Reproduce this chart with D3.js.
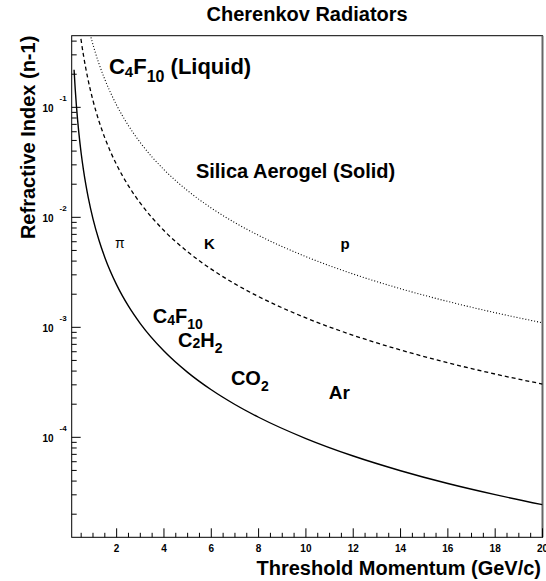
<!DOCTYPE html>
<html>
<head>
<meta charset="utf-8">
<script src="https://cdn.jsdelivr.net/npm/d3@7"></script>
<style>
  body { margin: 0; background: #fff; }
  svg { font-family: "Liberation Sans", Arial, Helvetica, sans-serif; }
</style>
</head>
<body>
<div id="chart"></div>
<script>
// threshold curves
const pionP = [0.2, 0.25, 0.3, 0.35, 0.4, 0.5, 0.6, 0.7, 0.8, 1, 1.25, 1.5, 2, 2.5, 3, 4, 5, 6, 7, 8, 10, 12, 14, 16, 18, 20];
const pionN = [0.2194, 0.1453, 0.1029, 0.07658, 0.05913, 0.03823, 0.02671, 0.01968, 0.01510, 0.00969, 0.006214, 0.004320, 0.002432, 0.001557, 0.001082, 0.0006087, 0.0003896, 0.0002705, 0.0001988, 0.0001522, 0.0000974, 0.0000676, 0.0000497, 0.0000380, 0.0000301, 0.0000244];

const kaonP = [0.45, 0.5, 0.6, 0.7, 0.8, 0.9, 1, 1.25, 1.5, 1.75, 2, 2.5, 3, 4, 5, 6, 7, 8, 10, 12, 14, 16, 18, 20];
const kaonN = [0.4844, 0.4053, 0.2950, 0.2237, 0.1751, 0.1406, 0.1152, 0.07517, 0.05277, 0.03903, 0.03001, 0.01931, 0.01345, 0.007587, 0.004863, 0.003379, 0.002484, 0.001902, 0.001218, 0.000846, 0.000622, 0.000476, 0.000376, 0.000305];

const protonP = [0.85, 0.9, 1, 1.1, 1.25, 1.5, 1.75, 2, 2.5, 3, 3.5, 4, 5, 6, 7, 8, 10, 12, 14, 16, 18, 20];
const protonN = [0.4895, 0.4446, 0.3713, 0.3144, 0.2504, 0.1795, 0.1347, 0.1046, 0.06811, 0.04777, 0.03531, 0.02714, 0.01746, 0.01215, 0.008943, 0.006854, 0.004392, 0.003052, 0.002243, 0.001718, 0.001358, 0.0011];

const xTicks = [2, 4, 6, 8, 10, 12, 14, 16, 18, 20];
const yExponents = [-1, -2, -3, -4];

const width = 546, height = 581;
const plotL = 71.7, plotR = 542.5, plotT = 35.7, plotB = 537.3;

const svg = d3.select("#chart").append("svg")
    .attr("width", width)
    .attr("height", height);

const x = d3.scaleLinear().domain([0.1, 20]).range([plotL, plotR]);
const y = d3.scaleLog().domain([1.233e-5, 0.448]).range([plotB, plotT]);

svg.append("clipPath").attr("id", "plot-clip")
    .append("rect")
    .attr("x", plotL).attr("y", plotT)
    .attr("width", plotR - plotL).attr("height", plotB - plotT);

// frame
svg.append("rect")
    .attr("x", plotL).attr("y", plotT)
    .attr("width", plotR - plotL).attr("height", plotB - plotT)
    .attr("fill", "none")
    .attr("stroke", "#000")
    .attr("stroke-width", 1);
svg.append("line")
    .attr("x1", plotR).attr("x2", plotR)
    .attr("y1", plotT).attr("y2", plotB)
    .attr("stroke", "#666").attr("stroke-width", 2);

// x axis ticks
const xMinor = d3.range(0.5, 20, 0.5).filter(v => v % 2 !== 0);
svg.append("g").selectAll("line")
    .data(xMinor)
    .enter().append("line")
    .attr("x1", d => x(d)).attr("x2", d => x(d))
    .attr("y1", plotB).attr("y2", plotB - 4.5)
    .attr("stroke", "#000");
svg.append("g").selectAll("line")
    .data(xTicks)
    .enter().append("line")
    .attr("x1", d => x(d)).attr("x2", d => x(d))
    .attr("y1", plotB).attr("y2", plotB - 9)
    .attr("stroke", "#000");
svg.append("g").selectAll("text")
    .data(xTicks)
    .enter().append("text")
    .attr("x", d => x(d))
    .attr("y", 551.7)
    .attr("text-anchor", "middle")
    .attr("font-size", 10)
    .attr("font-weight", "bold")
    .text(d => d);

// y axis ticks (log)
const yMinor = [];
[-5, -4, -3, -2, -1].forEach(e => {
    for (let k = 2; k <= 9; k++) {
        const v = k * Math.pow(10, e);
        if (v >= y.domain()[0] && v <= y.domain()[1]) yMinor.push(v);
    }
});
svg.append("g").selectAll("line")
    .data(yMinor)
    .enter().append("line")
    .attr("x1", plotL).attr("x2", plotL + 5)
    .attr("y1", d => y(d)).attr("y2", d => y(d))
    .attr("stroke", "#000");
svg.append("g").selectAll("line")
    .data(yExponents)
    .enter().append("line")
    .attr("x1", plotL).attr("x2", plotL + 9)
    .attr("y1", d => y(Math.pow(10, d))).attr("y2", d => y(Math.pow(10, d)))
    .attr("stroke", "#000");

const yLab = svg.append("g").selectAll("g")
    .data(yExponents)
    .enter().append("g")
    .attr("font-weight", "bold");
yLab.append("text")
    .attr("x", 53.5)
    .attr("y", d => y(Math.pow(10, d)) + 4.5)
    .attr("text-anchor", "end")
    .attr("font-size", 10)
    .text("10");
yLab.append("text")
    .attr("x", 59.5)
    .attr("y", d => y(Math.pow(10, d)) - 6.5)
    .attr("font-size", 8)
    .text(d => d);

// curves
const line = d3.line()
    .x(d => x(d[0]))
    .y(d => y(d[1]))
    .curve(d3.curveMonotoneX);

const curves = svg.append("g").attr("clip-path", "url(#plot-clip)");
curves.append("path")
    .attr("d", line(d3.zip(pionP, pionN)))
    .attr("fill", "none").attr("stroke", "#000").attr("stroke-width", 1.4);
curves.append("path")
    .attr("d", line(d3.zip(kaonP, kaonN)))
    .attr("fill", "none").attr("stroke", "#000").attr("stroke-width", 1.3)
    .attr("stroke-dasharray", "4,3");
curves.append("path")
    .attr("d", line(d3.zip(protonP, protonN)))
    .attr("fill", "none").attr("stroke", "#000").attr("stroke-width", 1.1)
    .attr("stroke-dasharray", "1,2");

// labels; subscripts given as {sub, dy, size}
function label(px, py, parts, size, weight) {
    const t = svg.append("text")
        .attr("x", px).attr("y", py)
        .attr("font-size", size)
        .attr("font-weight", weight || "bold");
    let shift = 0;
    parts.forEach(p => {
        const sub = typeof p !== "string";
        const s = sub ? p.sub : p;
        const target = sub ? p.dy : 0;
        t.append("tspan")
            .attr("dy", target - shift)
            .attr("font-size", sub ? p.size : size)
            .text(s);
        shift = target;
    });
    return t;
}

label(x(1.675), y(0.1995), ["C", {sub: "4", dy: 2.4, size: 15}, "F", {sub: "10", dy: 7.4, size: 16}, " (Liquid)"], 22);
label(x(5.35), y(0.02277), ["Silica Aerogel (Solid)"], 20);
label(x(1.93), y(0.00523), ["π"], 14, "normal");
label(x(5.69), y(0.00515), ["K"], 15);
label(x(11.46), y(0.00515), ["p"], 15);
label(x(3.53), y(0.001094), ["C", {sub: "4", dy: 1.5, size: 14}, "F", {sub: "10", dy: 5.5, size: 14}], 20);
label(x(4.59), y(0.000667), ["C", {sub: "2", dy: 1.7, size: 14}, "H", {sub: "2", dy: 6.5, size: 14}], 20);
label(x(6.83), y(0.000299), ["CO", {sub: "2", dy: 5.7, size: 14}], 20);
label(x(10.97), y(0.0002216), ["Ar"], 19);

// titles
svg.append("text")
    .attr("x", (plotL + plotR) / 2).attr("y", 20.5)
    .attr("text-anchor", "middle")
    .attr("font-size", 20).attr("font-weight", "bold")
    .text("Cherenkov Radiators");
svg.append("text")
    .attr("x", 541).attr("y", 575)
    .attr("text-anchor", "end")
    .attr("font-size", 20).attr("font-weight", "bold")
    .text("Threshold Momentum (GeV/c)");
svg.append("text")
    .attr("transform", `translate(35,${plotT}) rotate(-90)`)
    .attr("text-anchor", "end")
    .attr("font-size", 20).attr("font-weight", "bold")
    .text("Refractive Index (n-1)");
</script>
</body>
</html>
